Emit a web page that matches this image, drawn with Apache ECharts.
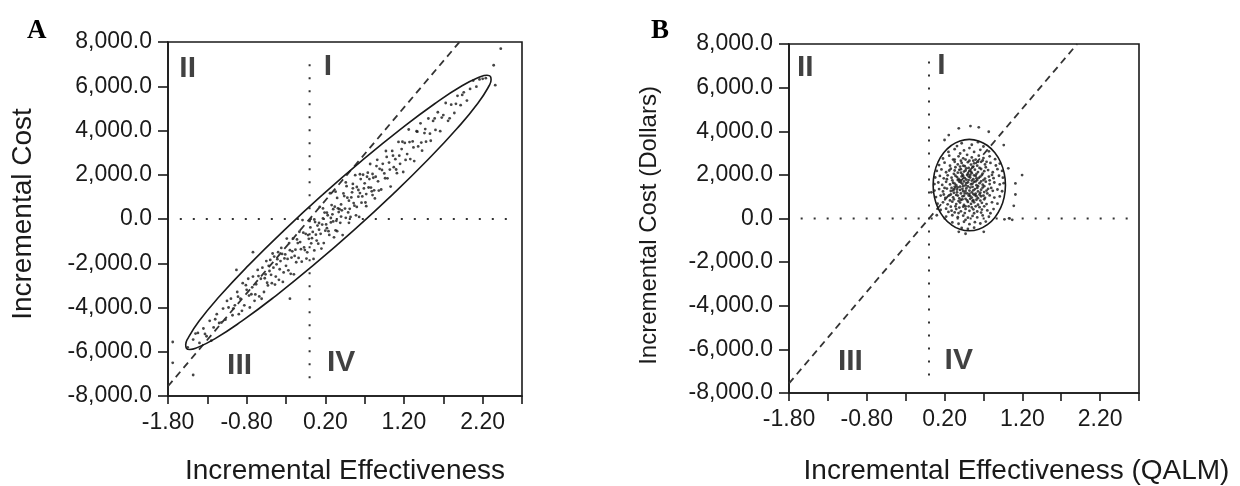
<!DOCTYPE html>
<html lang="en">
<head>
<meta charset="UTF-8" />
<title>Cost-effectiveness planes</title>
<style>
  html, body { margin: 0; padding: 0; background: #fff; }
  #chart { width: 1240px; height: 486px; }
</style>
<script src="https://cdn.jsdelivr.net/npm/echarts@6/dist/echarts.min.js"></script>
</head>
<body>
<div id="chart"></div>
<script>
// ---- data ----
const panelLetters = ["A", "B"];
const xTitles = ["Incremental Effectiveness", "Incremental Effectiveness (QALM)"];
const yTitles = ["Incremental Cost", "Incremental Cost (Dollars)"];
const quadrantNames = ["I", "II", "III", "IV"];
const quadrantPosA = [[0.234, 6900], [-1.55, 6770], [-0.89, -6640], [0.40, -6510]];
const quadrantPosB = [[0.16, 7010], [-1.59, 6920], [-1.01, -6570], [0.383, -6540]];

// willingness-to-pay line and the two zero lines
const wtpLine = [[-1.8, -7560], [1.905, 8000]];
const zeroVert = [[0, -7200], [0, 7450]];
const zeroHorz = [[-1.65, 0], [2.64, 0]];

// confidence ellipses (outline)
const ellipseA = [
  [0.567, -491], [0.060, -2055], [-0.426, -3458], [-0.858, -4605], [-1.206, -5418],
  [-1.448, -5841], [-1.523, -5896], [-1.566, -5845], [-1.575, -5689], [-1.552, -5430],
  [-1.407, -4625], [-1.142, -3484], [-0.774, -2085], [-0.328, -523], [0.165, 1095],
  [0.672, 2659], [1.158, 4062], [1.590, 5209], [1.938, 6022], [2.180, 6445],
  [2.255, 6500], [2.298, 6449], [2.307, 6293], [2.284, 6034], [2.139, 5229],
  [1.874, 4088], [1.506, 2689], [1.060, 1127], [0.567, -491]
];
const ellipseB = [
  [0.983, 1532], [0.967, 2074], [0.921, 2580], [0.847, 3014], [0.751, 3347],
  [0.638, 3557], [0.518, 3628], [0.398, 3557], [0.286, 3347], [0.189, 3014],
  [0.115, 2580], [0.069, 2074], [0.053, 1532], [0.069, 990], [0.115, 484],
  [0.189, 50], [0.286, -283], [0.398, -493], [0.518, -564], [0.638, -493],
  [0.751, -283], [0.847, 50], [0.921, 484], [0.967, 990], [0.983, 1532]
];

// bootstrap replicates, panel A
const scatterA = [
  [-1.55, -5800], [-1.48, -5450], [-1.42, -5150], [-1.40, -5600], [-1.35, -4950],
  [-1.31, -5300], [-1.27, -4600], [-1.22, -4900], [-1.18, -4300], [-1.15, -4700],
  [-1.10, -4050], [-1.07, -4550], [-1.03, -4000], [-1.00, -3600], [-0.98, -4350],
  [-0.95, -3900], [-1.74, -5560], [-1.74, -6500], [-1.48, -7050], [-1.25, -5500],
  [-0.72, -1500], [-0.25, -3600], [-0.93, -2300], [2.43, 7700], [2.34, 6950], [2.36, 6050],
  [-0.92, -3300], [-0.90, -4300], [-0.88, -3600], [-0.85, -2900], [-0.83, -3900],
  [-0.80, -3200], [-0.78, -2700], [-0.76, -4000], [-0.74, -3400], [-0.72, -2600],
  [-0.70, -3700], [-0.68, -2950], [-0.66, -2300], [-0.64, -3500], [-0.62, -2700],
  [-0.60, -2200], [-0.58, -3300], [-0.56, -2500], [-0.55, -1900], [-0.53, -3000],
  [-0.51, -2350], [-0.50, -1850], [-0.48, -2900], [-0.46, -2200], [-0.45, -1700],
  [-0.43, -2600], [-0.42, -2050], [-0.40, -1500], [-0.39, -2750], [-0.37, -1900],
  [-0.35, -1577], [-0.34, -2845], [-0.32, -1781], [-0.30, -2118], [-0.29, -886],
  [-0.27, -2322], [-0.25, -1409], [-0.23, -1745], [-0.21, -881], [-0.20, -2499],
  [-0.18, -1386], [-0.16, -922], [-0.14, -1758], [-0.12, -1045], [-0.10, -1931],
  [-0.09, -49], [-0.07, -1286], [-0.05, -672], [-0.03, -1508], [-0.01, -895],
  [0.00, -63], [0.02, -1099], [0.04, -586], [0.05, -1804], [0.07, -140],
  [0.08, -708], [0.10, -295], [0.11, -1113], [0.13, 551], [0.14, -668],
  [0.16, -254], [0.18, -1090], [0.19, 292], [0.21, -245], [0.23, 169],
  [0.24, -549], [0.26, 1164], [0.27, -154], [0.29, 210], [0.31, -827],
  [0.32, 555], [0.34, -81], [0.35, 951], [0.37, 314], [0.39, -172],
  [0.40, 660], [0.42, -727], [0.44, 1037], [0.45, 469], [0.47, 1483],
  [0.49, 296], [0.50, 828], [0.52, 92], [0.54, 1205], [0.56, 719],
  [0.58, 1983], [0.60, 546], [0.62, 1310], [0.63, 92], [0.65, 1805],
  [0.67, 1019], [0.69, 1383], [0.71, 746], [0.73, 1910], [0.75, 1424],
  [0.77, 2487], [0.79, 1251], [0.81, 1864], [0.83, 928], [0.85, 2392],
  [0.87, 1705], [0.89, 2269],
  [-0.19, -1668], [-0.13, -577], [-0.06, -1404], [0.01, -381], [0.06, -1422],
  [0.12, -481], [0.17, 28], [0.22, -413], [0.28, 628], [0.33, -513],
  [0.36, 483], [0.41, 392], [0.46, 1651], [0.51, 460], [0.55, 1387],
  [0.59, 164], [0.64, 1173], [0.68, 2001], [0.72, 1128], [0.76, 1805], [0.80, 1083],
  [0.91, 1333], [0.93, 2496], [0.95, 2060], [0.97, 3074], [0.99, 1837],
  [1.01, 2551], [1.03, 1464], [1.05, 3078], [1.07, 2342], [1.09, 2705],
  [1.11, 2069], [1.13, 3483], [1.15, 2496], [1.17, 3160], [1.19, 2124],
  [1.21, 3437], [1.24, 2933], [1.26, 4046], [1.28, 2710], [1.31, 3505],
  [1.33, 2619], [1.36, 3965], [1.38, 3278], [1.41, 4324], [1.43, 3087],
  [1.46, 3883], [1.48, 3496], [1.51, 4542], [1.54, 3537], [1.57, 4433],
  [1.60, 4028], [1.63, 4824], [1.66, 3969], [1.70, 4696], [1.73, 5242],
  [1.76, 4437], [1.80, 5165], [1.84, 4792], [1.88, 5569], [1.92, 5146],
  [1.96, 5724], [2.00, 5351], [2.04, 5878], [2.08, 6256], [2.12, 5983],
  [2.16, 6310], [2.20, 6337], [2.24, 6365],
  [-1.45, -5177], [-1.33, -5195], [-1.20, -4531], [-1.12, -4677], [-1.05, -3704],
  [-0.97, -4050], [-0.91, -3509], [-0.86, -4150], [-0.81, -2990], [-0.77, -3463],
  [-0.73, -3086], [-0.69, -3409], [-0.65, -2581], [-0.61, -3604], [-0.57, -2677],
  [-0.54, -2881], [-0.52, -2118], [-0.49, -2522], [-0.47, -1559], [-0.44, -2963],
  [-0.41, -1818], [-0.38, -2272], [-0.36, -1308], [-0.33, -2413], [-0.31, -1599],
  [-0.28, -1804], [-0.26, -1090], [-0.24, -2477], [-0.22, -1463], [-0.17, -1954],
  [-0.15, -1090], [-0.11, -1363], [-0.08, -618], [-0.04, -1790], [-0.02, -727],
  [0.03, -868], [0.06, -22], [0.09, -977], [0.12, -181], [0.15, -1336],
  [0.17, 478], [0.20, -527], [0.22, 287], [0.25, -718], [0.27, 46],
  [0.30, 442], [0.30, -108], [0.33, 1237], [0.35, -549], [0.38, 446],
  [0.40, 110], [0.43, 1155], [0.46, 51], [0.48, 964], [0.50, -172],
  [0.53, 973], [0.55, 1587], [0.57, 601], [0.60, 1446], [0.62, 1010],
  [0.64, 2023], [0.66, 737], [0.70, 1614], [0.72, 578], [0.74, 2092],
  [0.78, 1419], [0.80, 2033], [0.82, 1296], [0.84, 1910], [0.86, 2673],
  [0.88, 1287], [0.92, 2214], [0.96, 1842], [0.98, 2805], [1.02, 2233],
  [1.06, 2860], [1.10, 2237], [1.14, 2864], [1.18, 3492], [1.22, 2669],
  [1.27, 3478], [1.32, 3237], [1.37, 3946], [1.42, 3455], [1.47, 4065],
  [1.53, 3856], [1.59, 4546], [1.68, 4583], [1.78, 4551], [1.86, 5206], [1.94, 5610]
];

// bootstrap replicates, panel B
const scatterB = [
  [0.42, 3450], [0.55, 3380], [0.63, 3500], [0.36, 3320], [0.70, 3300],
  [0.25, 3050], [0.33, 3180], [0.45, 3120], [0.52, 3230], [0.58, 3050], [0.66, 3150], [0.77, 3080], [0.40, 2980],
  [0.18, 2750], [0.26, 2880], [0.31, 2700], [0.38, 2850], [0.44, 2760], [0.49, 2920], [0.55, 2800],
  [0.60, 2700], [0.64, 2880], [0.70, 2770], [0.78, 2850], [0.85, 2720], [0.52, 2650],
  [0.13, 2450], [0.20, 2560], [0.27, 2420], [0.33, 2600], [0.37, 2480], [0.42, 2550], [0.46, 2400],
  [0.50, 2580], [0.54, 2470], [0.58, 2530], [0.62, 2420], [0.67, 2600], [0.72, 2480], [0.79, 2550],
  [0.86, 2430], [0.91, 2520], [0.40, 2380], [0.56, 2350],
  [0.10, 2180], [0.16, 2250], [0.22, 2120], [0.28, 2280], [0.33, 2200], [0.37, 2100], [0.41, 2260],
  [0.45, 2150], [0.48, 2300], [0.52, 2180], [0.55, 2080], [0.59, 2240], [0.63, 2130], [0.67, 2270],
  [0.71, 2170], [0.76, 2220], [0.82, 2120], [0.88, 2260], [0.94, 2180], [0.50, 2050], [0.43, 2020],
  [0.08, 1880], [0.14, 1950], [0.19, 1840], [0.24, 1980], [0.29, 1870], [0.34, 1960], [0.38, 1820],
  [0.42, 1930], [0.46, 1850], [0.49, 1990], [0.53, 1880], [0.57, 1800], [0.60, 1950], [0.64, 1860],
  [0.68, 1990], [0.72, 1830], [0.77, 1920], [0.83, 1850], [0.90, 1960], [0.95, 1870], [0.40, 1760],
  [0.55, 1740], [0.62, 1760],
  [0.07, 1580], [0.12, 1650], [0.17, 1540], [0.22, 1680], [0.27, 1560], [0.31, 1640], [0.35, 1530],
  [0.39, 1690], [0.43, 1590], [0.47, 1520], [0.50, 1660], [0.54, 1570], [0.58, 1680], [0.61, 1530],
  [0.65, 1620], [0.69, 1550], [0.73, 1690], [0.78, 1580], [0.84, 1650], [0.91, 1560], [0.96, 1620],
  [0.45, 1700], [0.56, 1450], [0.37, 1430],
  [0.07, 1280], [0.13, 1350], [0.18, 1240], [0.23, 1370], [0.28, 1260], [0.32, 1330], [0.36, 1200],
  [0.40, 1310], [0.44, 1250], [0.48, 1380], [0.52, 1280], [0.55, 1200], [0.59, 1350], [0.63, 1240],
  [0.67, 1320], [0.71, 1210], [0.76, 1360], [0.82, 1270], [0.88, 1330], [0.94, 1250], [0.46, 1150],
  [0.60, 1140],
  [0.09, 980], [0.15, 1050], [0.21, 940], [0.26, 1060], [0.31, 970], [0.35, 1080], [0.39, 920],
  [0.43, 1010], [0.47, 900], [0.51, 1050], [0.55, 960], [0.59, 1070], [0.63, 930], [0.67, 1020],
  [0.72, 950], [0.78, 1060], [0.84, 960], [0.91, 1010], [0.41, 850], [0.57, 840],
  [0.11, 680], [0.18, 740], [0.24, 650], [0.30, 770], [0.35, 660], [0.40, 730], [0.45, 620],
  [0.50, 760], [0.54, 670], [0.58, 740], [0.63, 630], [0.68, 720], [0.74, 660], [0.81, 740],
  [0.88, 680], [0.47, 560],
  [0.15, 390], [0.22, 450], [0.29, 360], [0.35, 430], [0.41, 330], [0.47, 440], [0.52, 350],
  [0.57, 420], [0.62, 320], [0.68, 410], [0.75, 370], [0.83, 430], [0.38, 250],
  [0.22, 90], [0.30, 150], [0.37, 60], [0.44, 130], [0.50, 40], [0.56, 120], [0.62, 50],
  [0.69, 140], [0.77, 80], [0.47, -60],
  [0.30, -180], [0.38, -240], [0.45, -150], [0.52, -260], [0.59, -170], [0.66, -230], [0.73, -140],
  [0.42, -430], [0.50, -480], [0.58, -420],
  [0.383, 4133], [0.533, 4239], [0.64, 4178], [0.768, 3977], [0.254, 3826], [0.961, 3367],
  [1.197, 1991], [1.111, 1610], [1.111, 1100], [1.09, 580], [0.97, -40], [1.03, 10], [1.07, -60],
  [0.383, -611], [0.704, -611], [0.47, -700], [0.20, 3600], [1.02, 2300], [0.03, 1200], [0.10, 150],
  [0.34, 2350], [0.39, 2230], [0.44, 2420], [0.47, 2200], [0.51, 2320], [0.53, 2000], [0.57, 2380],
  [0.61, 2050], [0.65, 2320], [0.69, 2060], [0.73, 2350],
  [0.32, 2050], [0.36, 1900], [0.41, 2100], [0.44, 1950], [0.48, 1780], [0.51, 1920], [0.54, 2150],
  [0.58, 1980], [0.61, 1840], [0.66, 1920], [0.70, 1760],
  [0.30, 1750], [0.33, 1600], [0.37, 1760], [0.41, 1650], [0.44, 1480], [0.48, 1620], [0.51, 1760],
  [0.53, 1420], [0.56, 1600], [0.60, 1700], [0.63, 1480], [0.67, 1700], [0.71, 1480],
  [0.29, 1400], [0.33, 1450], [0.36, 1330], [0.40, 1460], [0.43, 1360], [0.47, 1260], [0.50, 1470],
  [0.52, 1130], [0.57, 1290], [0.62, 1400], [0.66, 1180], [0.69, 1420], [0.74, 1280],
  [0.28, 1100], [0.32, 1180], [0.37, 1050], [0.41, 1150], [0.45, 1040], [0.49, 1150], [0.53, 1030],
  [0.57, 1120], [0.61, 1020], [0.65, 1100], [0.70, 1050], [0.75, 1150],
  [0.27, 830], [0.32, 880], [0.38, 800], [0.43, 880], [0.49, 830], [0.53, 900], [0.56, 800],
  [0.61, 860], [0.66, 820], [0.71, 880],
  [0.28, 540], [0.34, 560], [0.39, 500], [0.44, 540], [0.51, 560], [0.55, 510], [0.60, 560],
  [0.65, 520], [0.71, 560],
  [0.33, 2700], [0.41, 2650], [0.47, 2700], [0.57, 2650], [0.63, 2600], [0.69, 2660],
  [0.26, 2200], [0.23, 1800], [0.20, 1400], [0.19, 1100], [0.78, 1750], [0.80, 1400], [0.81, 2000],
  [0.74, 2600], [0.25, 300], [0.33, 280], [0.46, 250], [0.58, 240], [0.67, 270], [0.79, 240]
];

const ink = "#1a1a1a";
const sans = "Liberation Sans, Arial, sans-serif";
const serif = "Liberation Serif, Times New Roman, serif";

function costLabel(v) {
  const s = Math.abs(v).toLocaleString("en-US") + ".0";
  return v < 0 ? "-" + s : s;
}
function effLabel(v) {
  const k = Math.round((v + 1.8) * 10);
  return k % 10 === 0 ? v.toFixed(2) : "";
}

const grids = [
  { left: 168, top: 42, width: 354, height: 354 },
  { left: 789, top: 44, width: 350, height: 349 }
];

function xAxisFor(i) {
  return {
    type: "value", gridIndex: i, min: -1.8, max: 2.7, interval: 0.5,
    name: xTitles[i], nameLocation: "middle", nameGap: i === 0 ? 61 : 64,
    nameTextStyle: { fontFamily: sans, fontSize: 28, color: ink,
      padding: i === 0 ? 0 : [0, 0, 0, 105] },
    axisLine: { onZero: false, lineStyle: { color: ink, width: 1.6 } },
    axisTick: { length: 8, lineStyle: { color: ink, width: 1.6 } },
    axisLabel: { formatter: effLabel, fontFamily: sans, fontSize: 23, color: ink, margin: 15 },
    splitLine: { show: false }
  };
}
function yAxisFor(i) {
  return {
    type: "value", gridIndex: i, min: -8000, max: 8000, interval: 2000,
    name: yTitles[i], nameLocation: "middle", nameGap: i === 0 ? 131 : 128,
    nameTextStyle: { fontFamily: sans, fontSize: i === 0 ? 28 : 24, color: ink,
      padding: i === 0 ? [0, 0, 0, 10] : [0, 14, 0, 0] },
    axisLine: { onZero: false, lineStyle: { color: ink, width: 1.6 } },
    axisTick: { length: 10, lineStyle: { color: ink, width: 1.6 } },
    axisLabel: { formatter: costLabel, fontFamily: sans, fontSize: 23, color: ink, margin: 16 },
    splitLine: { show: false }
  };
}

function panelSeries(i, cloud, ellipse, quadPos) {
  const common = { xAxisIndex: i, yAxisIndex: i, silent: true };
  return [
    Object.assign({ type: "line", data: zeroVert, symbol: "none",
      lineStyle: { color: "#333", width: 2, type: [2, 11] } }, common),
    Object.assign({ type: "line", data: zeroHorz, symbol: "none",
      lineStyle: { color: "#333", width: 2, type: [2, 11] } }, common),
    Object.assign({ type: "line", data: wtpLine, symbol: "none",
      lineStyle: { color: "#333", width: 1.8, type: [7, 5] } }, common),
    Object.assign({ type: "scatter", data: cloud, symbolSize: 2.8,
      itemStyle: { color: "#161616" } }, common),
    Object.assign({ type: "line", data: ellipse, symbol: "none", smooth: 0.5,
      lineStyle: { color: ink, width: 1.6 } }, common),
    Object.assign({ type: "scatter", symbolSize: 0,
      data: quadrantNames.map(function (n, k) { return { name: n, value: quadPos[k] }; }),
      label: { show: true, position: "inside", formatter: "{b}", fontFamily: sans,
        fontWeight: "bold", fontSize: 30, color: "#111" } }, common)
  ];
}

const chart = echarts.init(document.getElementById("chart"), null, { renderer: "canvas" });
chart.setOption({
  animation: false,
  backgroundColor: "#fff",
  title: [
    { text: panelLetters[0], left: 22, top: 13,
      textStyle: { fontFamily: serif, fontWeight: "bold", fontSize: 27, color: "#000" } },
    { text: panelLetters[1], left: 646, top: 13,
      textStyle: { fontFamily: serif, fontWeight: "bold", fontSize: 27, color: "#000" } }
  ],
  grid: grids.map(function (g) {
    return Object.assign({ show: true, borderColor: ink, borderWidth: 1.6,
      backgroundColor: "transparent", containLabel: false, outerBoundsMode: "none" }, g);
  }),
  xAxis: [xAxisFor(0), xAxisFor(1)],
  yAxis: [yAxisFor(0), yAxisFor(1)],
  series: panelSeries(0, scatterA, ellipseA, quadrantPosA)
    .concat(panelSeries(1, scatterB, ellipseB, quadrantPosB))
});
</script>
</body>
</html>
